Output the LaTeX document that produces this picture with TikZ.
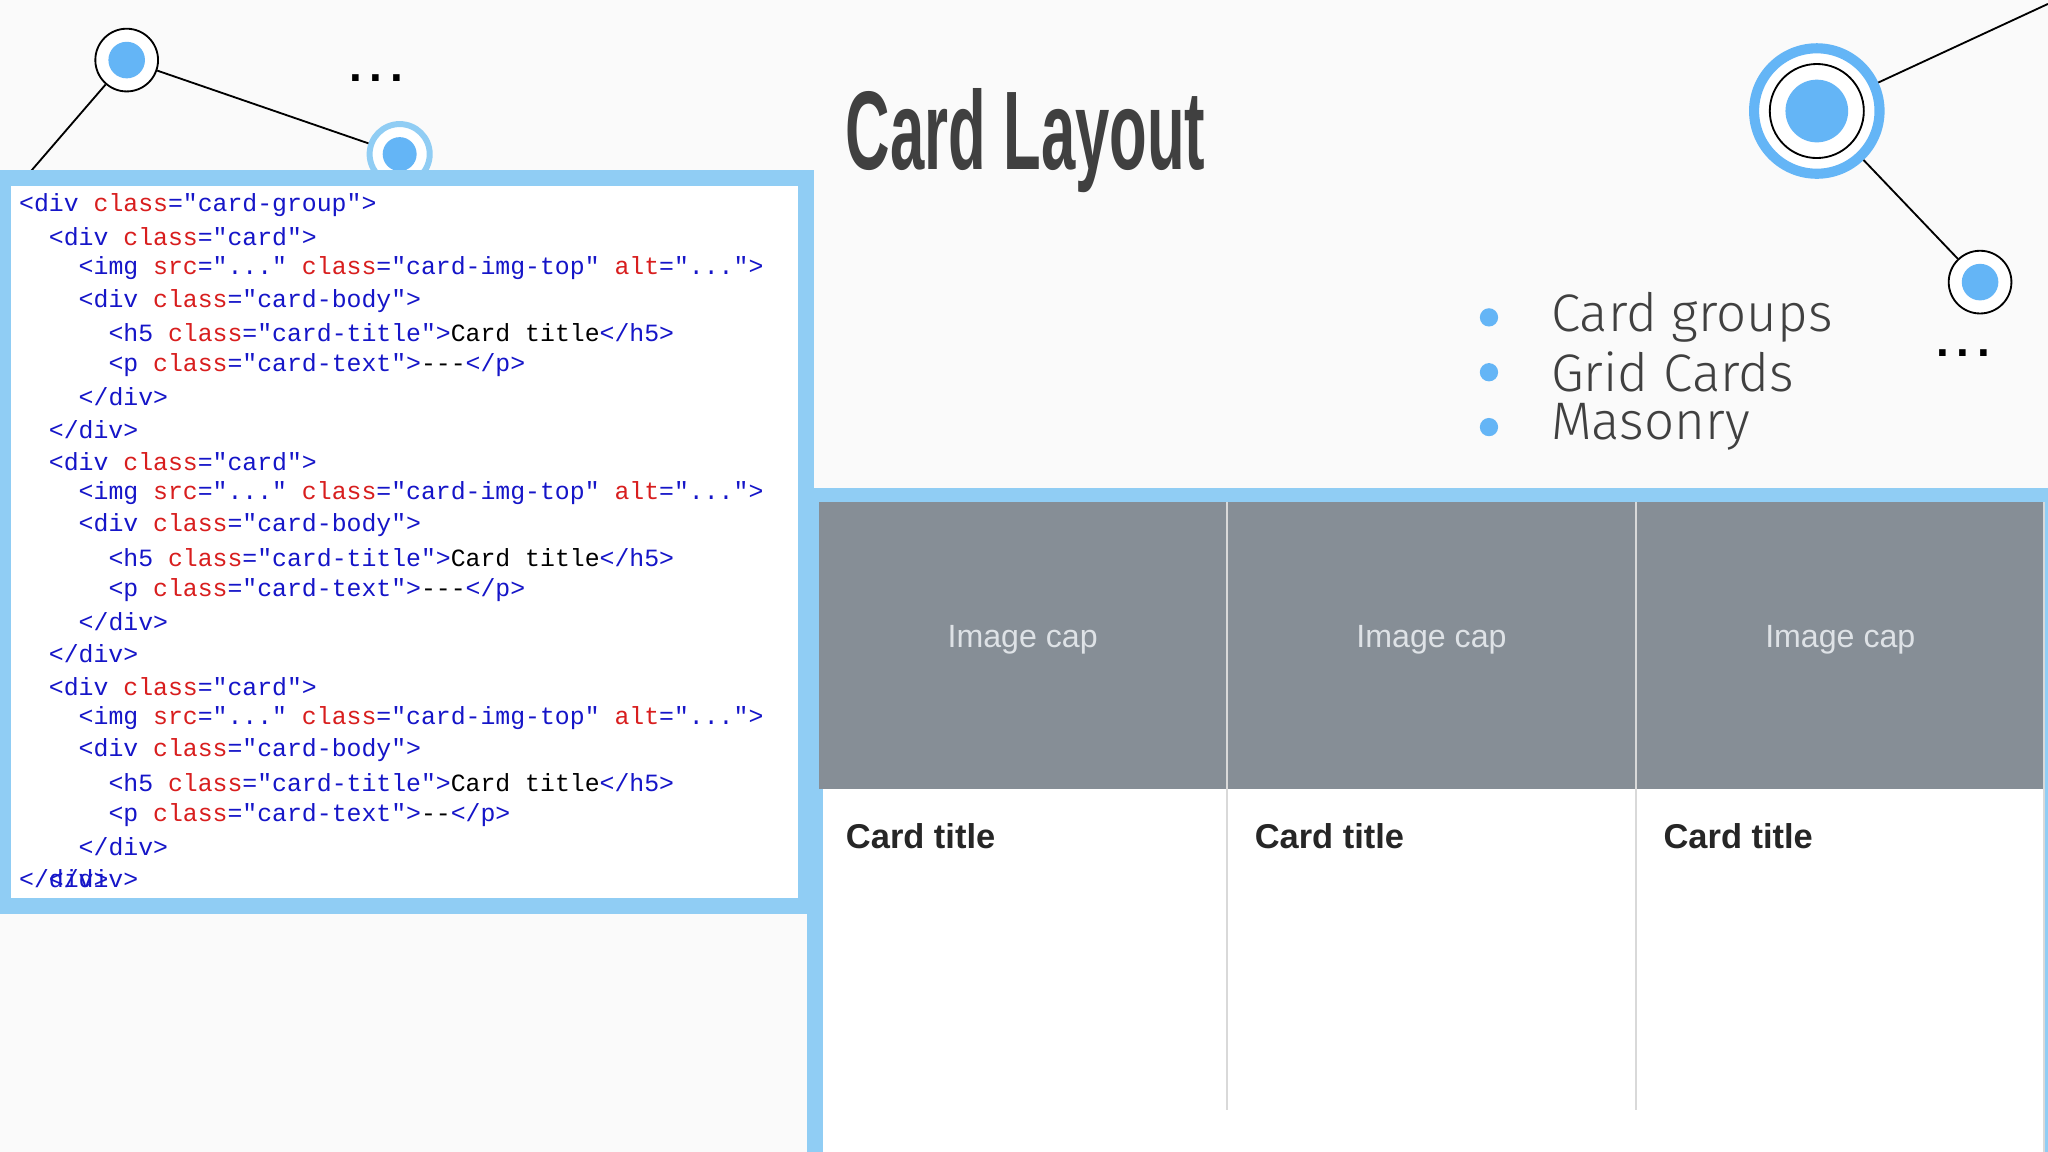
\documentclass[tikz,border=0pt]{standalone}
\usepackage{fontspec}
\setmainfont{Liberation Sans}
\newfontfamily\codef{Liberation Mono}
\newfontfamily\bulf{Fira Sans Light}
\definecolor{lb}{HTML}{90CDF4}
\definecolor{dot}{HTML}{64B5F6}
\definecolor{tg}{HTML}{1515C8}
\definecolor{at}{HTML}{D81E1E}
\definecolor{grayimg}{HTML}{868E96}
\definecolor{capc}{HTML}{DEE2E6}
\definecolor{dk}{HTML}{404040}
\newcommand{\T}[1]{\textcolor{tg}{#1}}
\newcommand{\A}[1]{\textcolor{at}{#1}}
\begin{document}
\begin{tikzpicture}[x=0.01cm,y=-0.01cm,
 codeline/.style={anchor=west,inner sep=0,font=\codef\fontsize{5.4}{6}\selectfont},
 bul/.style={circle,fill=dot,inner sep=0,minimum size=0.14cm},
 bultext/.style={anchor=west,inner sep=0,text=dk,font=\bulf\fontsize{11.5}{13}\selectfont},
 imgcap/.style={text=capc,font=\fontsize{7}{8}\selectfont},
 ctitle/.style={anchor=west,inner sep=0,font=\bfseries\fontsize{7.5}{9}\selectfont,text=black!85}]
\fill[white!98!black] (0,0) rectangle (1568,882);
\useasboundingbox (0,0) rectangle (1568,882);
% decorations top-left
\coordinate (tl0) at (22,133);
\node[circle,draw=black,fill=white,minimum size=0.48cm,inner sep=0] (c1) at (97,46) {};
\node[circle,draw=lb,line width=1.3pt,fill=white,minimum size=0.46cm,inner sep=0] (c2) at (306,118) {};
\draw (tl0) -- (c1); \draw (c1) -- (c2);
\fill[dot] (c1) circle (14); \fill[dot] (c2) circle (13);
\node (d1) at (288,60) {\textbf{.\,.\,.}};
% top-right
\coordinate (tr0) at (1568,3);
\node[circle,draw=dot,line width=2.2pt,fill=white,minimum size=0.96cm,inner sep=0] (c3) at (1391,85) {};
\node[circle,draw=black,fill=white,minimum size=0.48cm,inner sep=0] (c4) at (1516,216) {};
\draw (tr0) -- (c3); \draw (c3) -- (c4);
\draw[black] (c3) circle (36); \fill[dot] (c3) circle (24);
\fill[dot] (c4) circle (14);
\node (d2) at (1503,270) {\textbf{.\,.\,.}};
% title
\node[anchor=west,inner sep=0,text=dk] (title) at (647,108) {\resizebox{2.75cm}{0.62cm}{\bfseries Card Layout}};
% bullets
\foreach \y/\t [count=\i] in {243/Card groups,285/Grid Cards,327/Masonry}{
 \node[bul] (b\i) at (1140,\y) {};
 \node[bultext] (bt\i) at (1187,\y) {\t};}
% code box
\draw[lb,line width=3.5pt,fill=white] (2,136) rectangle (617,694);
\def\ls{24.6}
\node[codeline] (l1) at (14,157) {\T{<div }\A{class}\T{="card-group">}};
\foreach \k in {0,1,2}{
 \pgfmathsetmacro\yb{181+\k*7*\ls}
 \node[codeline] at (14,\yb) {\ \ \T{<div }\A{class}\T{="card">}};
 \node[codeline] at (14,\yb+\ls) {\ \ \ \ \T{<img }\A{src}\T{="..." }\A{class}\T{="card-img-top" }\A{alt}\T{="...">}};
 \node[codeline] at (14,\yb+2*\ls) {\ \ \ \ \T{<div }\A{class}\T{="card-body">}};
 \node[codeline] at (14,\yb+3*\ls) {\ \ \ \ \ \ \T{<h5 }\A{class}\T{="card-title">}Card title\T{</h5>}};
 \ifnum\k=2
 \node[codeline] at (14,\yb+4*\ls) {\ \ \ \ \ \ \T{<p }\A{class}\T{="card-text">}-{}-\T{</p>}};
 \else
 \node[codeline] at (14,\yb+4*\ls) {\ \ \ \ \ \ \T{<p }\A{class}\T{="card-text">}-{}-{}-\T{</p>}};
 \fi
 \node[codeline] at (14,\yb+5*\ls) {\ \ \ \ \T{</div>}};
 \node[codeline] at (14,\yb+6*\ls) {\ \ \T{</div>}};
}
\node[codeline] (lend) at (14,673) {\T{</div>}};
% card panel
\draw[lb,line width=3.5pt,fill=white] (624,380) rectangle (1572,890);
\foreach \x [count=\i] in {627,940,1253}{
 \fill[grayimg] (\x,384) rectangle (\x+312,604);
 \node[imgcap] (cap\i) at (\x+156,490) {Image cap};
 \node[ctitle] (ct\i) at (\x+20,640) {Card title};}
\draw[black!15] (939.5,384) -- (939.5,850);
\draw[black!15] (1252.5,384) -- (1252.5,850);
\draw[black!15] (1565,384) -- (1565,882);
\end{tikzpicture}
\end{document}
